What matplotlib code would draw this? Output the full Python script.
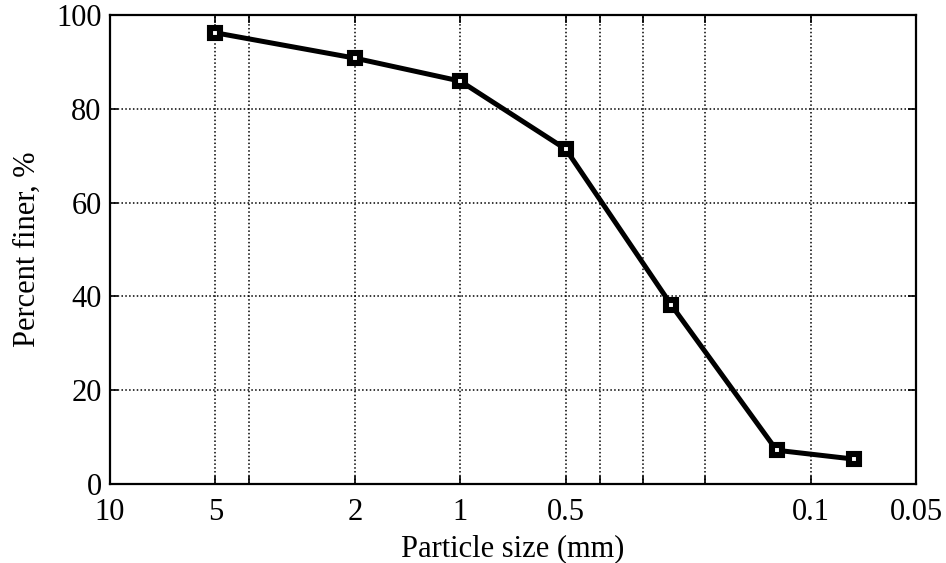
import matplotlib
matplotlib.use("Agg")
import matplotlib.pyplot as plt

# Datos de granulometría
sizes_mm = [5, 2, 1, 0.5, 0.25, 0.125, 0.075]
percent_finer = [96.2, 90.8, 85.9, 71.4, 38.2, 7.2, 5.3]

x_ticks = [10, 5, 4, 2, 1, 0.5, 0.4, 0.3, 0.2, 0.1, 0.05]
x_tick_labels = ["10", "5", "", "2", "1", "0.5", "", "", "", "0.1", "0.05"]
y_ticks = [0, 20, 40, 60, 80, 100]

plt.rcParams["font.family"] = ["Liberation Serif", "DejaVu Serif"]
plt.rcParams["font.size"] = 22

fig = plt.figure(figsize=(9.46, 5.63), dpi=100)
ax = fig.add_axes([0.1163, 0.1403, 0.852, 0.8331])

ax.plot(sizes_mm, percent_finer, color="black", linewidth=3.6,
        marker="s", markersize=7, markerfacecolor="white",
        markeredgecolor="black", markeredgewidth=4.4)

ax.set_xscale("log")
ax.set_xlim(10, 0.05)
ax.set_ylim(0, 100)
ax.set_xticks(x_ticks)
ax.set_xticklabels(x_tick_labels)
ax.minorticks_off()
ax.set_yticks(y_ticks)

ax.grid(True, color="black", linestyle=(0, (1, 1.5)), linewidth=1.1)
ax.tick_params(direction="in", length=6, width=1.2, top=True, right=True)
ax.tick_params(axis="x", pad=10)
ax.tick_params(axis="y", pad=6)
for s in ax.spines.values():
    s.set_linewidth(1.6)

ax.set_xlabel("Particle size (mm)", labelpad=5)
ax.set_ylabel("Percent finer, %", labelpad=10)

plt.savefig("out.png", dpi=100)
plt.close(fig)
